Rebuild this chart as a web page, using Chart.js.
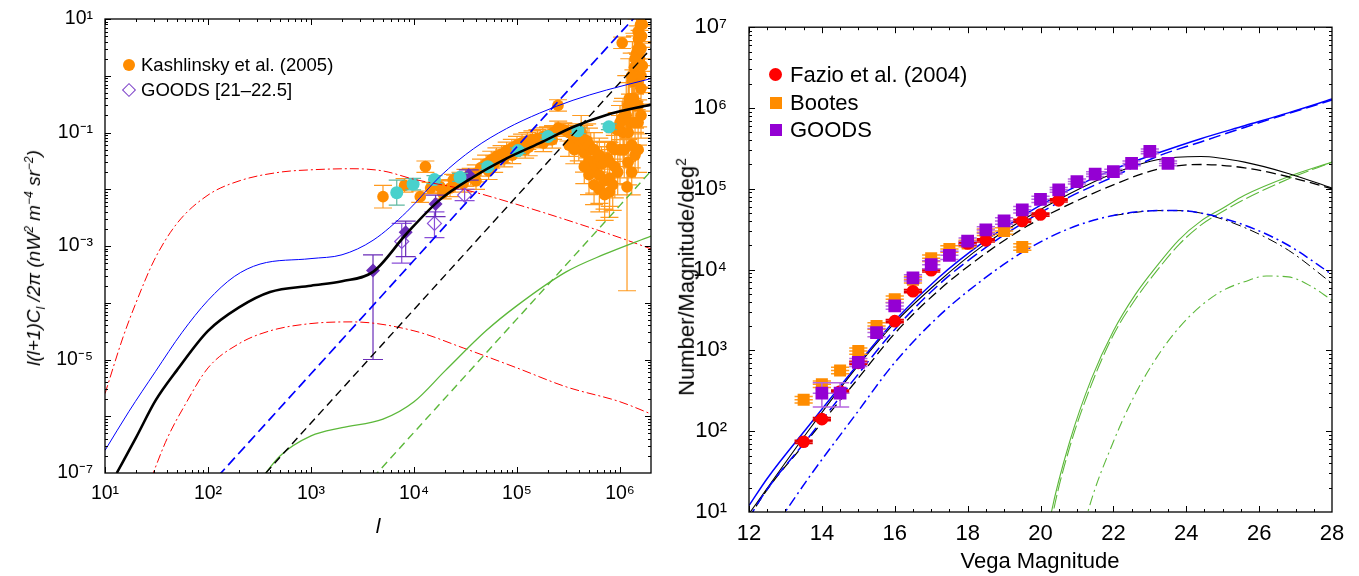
<!DOCTYPE html>
<html>
<head>
<meta charset="utf-8">
<script src="https://cdn.jsdelivr.net/npm/chart.js@4.4.1/dist/chart.umd.min.js"></script>
<style>
  body { margin: 0; background: #fff; width: 1359px; height: 576px; position: relative; overflow: hidden;
         font-family: "Liberation Sans", Arial, sans-serif; color: #000; }
  canvas { position: absolute; top: 0; }
  #left { left: 0; }
  #right { left: 680px; }
  .t { position: absolute; white-space: nowrap; line-height: 1; }
  .rot { transform: translate(-50%, -50%) rotate(-90deg); }
  .mk { position: absolute; }
</style>
</head>
<body>
<canvas id="left" width="680" height="576"></canvas>
<canvas id="right" width="679" height="576"></canvas>

<!-- axis titles -->
<div class="t rot" style="left:35px;top:258px;font-size:19px;font-style:italic;">l(l+1)C<sub style="font-size:12px">l</sub> /2&pi; (nW<sup style="font-size:12px">2</sup> m<sup style="font-size:12px">&minus;4</sup> sr<sup style="font-size:12px">&minus;2</sup>)</div>
<div class="t" style="left:378px;top:515px;font-size:21px;font-style:italic;transform:translateX(-50%);">l</div>
<div class="t rot" style="left:686px;top:277px;font-size:22px;">Number/Magnitude/deg<sup style="font-size:14px">2</sup></div>
<div class="t" style="left:1040px;top:550px;font-size:22px;transform:translateX(-50%);">Vega Magnitude</div>

<!-- legends -->
<div class="mk" style="left:123px;top:59px;width:12px;height:12px;border-radius:50%;background:#ff8c00;"></div>
<div class="t" style="left:141px;top:56px;font-size:18.5px;">Kashlinsky et al. (2005)</div>
<div class="mk" style="left:124px;top:85px;width:8px;height:8px;border:1.2px solid #7b3fc8;transform:rotate(45deg);"></div>
<div class="t" style="left:141px;top:81px;font-size:18.5px;">GOODS [21&ndash;22.5]</div>

<div class="mk" style="left:769px;top:68px;width:13px;height:13px;border-radius:50%;background:#ff0000;"></div>
<div class="t" style="left:790px;top:64px;font-size:22px;">Fazio et al. (2004)</div>
<div class="mk" style="left:770px;top:97px;width:12px;height:12px;background:#ff8c00;"></div>
<div class="t" style="left:790px;top:92px;font-size:22px;">Bootes</div>
<div class="mk" style="left:770px;top:124px;width:12px;height:12px;background:#9400d3;"></div>
<div class="t" style="left:790px;top:119px;font-size:22px;">GOODS</div>

<script>
// ---------- left panel: angular power spectrum ----------
const leftXTicks = [10, 100, 1e3, 1e4, 1e5, 1e6];
const leftXLabels = ['10¹', '10²', '10³', '10⁴', '10⁵', '10⁶'];
const leftYTicks = [10, 0.1, 1e-3, 1e-5, 1e-7];
const leftYLabels = ['10¹', '10⁻¹', '10⁻³', '10⁻⁵', '10⁻⁷'];

// model curves (l, value)
const blueTotL = [10, 17, 31, 56, 100, 180, 320, 1000, 2000, 4000, 8500, 1.8e4, 3.8e4, 7.9e4, 1.66e5, 3.5e5, 7.4e5, 2e6];
const blueTotV = [2.5e-7, 1.2e-6, 6.2e-6, 3.0e-5, 1.1e-4, 2.9e-4, 4.8e-4, 6.0e-4, 7.0e-4, 1.26e-3, 4.0e-3, 1.7e-2, 5.2e-2, 0.117, 0.22, 0.37, 0.56, 0.89];
const blackTotL = [13, 20, 31, 50, 100, 200, 400, 1000, 2000, 4000, 8500, 1.78e4, 3.8e4, 7.94e4, 1.66e5, 3.55e5, 7.4e5, 2e6];
const blackTotV = [1e-7, 4.2e-7, 1.9e-6, 6.5e-6, 3.2e-5, 8.3e-5, 1.55e-4, 2.0e-4, 2.4e-4, 3.5e-4, 1.66e-3, 6.5e-3, 1.66e-2, 3.5e-2, 6.5e-2, 0.126, 0.204, 0.31];
const redHiL = [10, 15, 20, 30, 50, 100, 200, 500, 1000, 2500, 5000, 1e4, 3e4, 1e5, 3e5, 1e6, 2e6];
const redHiV = [2.5e-6, 2.5e-5, 1e-4, 5.6e-4, 2.5e-3, 7.9e-3, 1.4e-2, 2.0e-2, 2.2e-2, 2.3e-2, 2.1e-2, 1.5e-2, 1.0e-2, 5.4e-3, 2.9e-3, 1.4e-3, 8.9e-4];
const redLoL = [28, 40, 60, 100, 200, 400, 1000, 2500, 1e4, 3e4, 1e5, 3e5, 1e6, 2e6];
const redLoV = [8e-8, 4e-7, 1.6e-6, 7.1e-6, 1.9e-5, 3.2e-5, 4.3e-5, 4.6e-5, 3.2e-5, 1.6e-5, 7.1e-6, 3.3e-6, 1.8e-6, 1.1e-6];
const blueShotL = [100, 1e3, 1e4, 1e5, 1e6, 2e6];
const blueShotV = [5.6e-8, 5.6e-6, 5.6e-4, 5.6e-2, 5.6, 22];
const blackShotL = [300, 1e3, 1e4, 1e5, 1e6, 2e6];
const blackShotV = [6.8e-8, 7.6e-7, 7.6e-5, 7.6e-3, 0.76, 3.0];
const greenShotL = [4000, 1e4, 1e5, 1e6, 2e6];
const greenShotV = [8.3e-8, 5.2e-7, 5.2e-5, 5.2e-3, 2.1e-2];
const greenTotL = [330, 500, 1000, 2000, 5000, 1e4, 2e4, 5e4, 1e5, 3e5, 7e5, 2e6];
const greenTotV = [8e-8, 2e-7, 4.5e-7, 6.3e-7, 8.9e-7, 1.8e-6, 6.3e-6, 3.2e-5, 8.9e-5, 3.5e-4, 7.1e-4, 1.5e-3];

// Kashlinsky et al. (2005) points, errors in dex
const kashL = [5000, 8100, 11500, 12900, 14500, 17800, 19000, 24000,
  22400, 25100, 28200, 31600, 35500, 39800, 44700, 50100, 56200, 63100,
  70800, 79400, 89100, 100000, 112000, 126000, 141000, 158000, 178000, 200000,
  224000, 251000, 282000, 316000, 355000, 398000, 447000, 501000, 562000, 631000,
  708000, 794000, 891000, 1.0e6, 1.07e6, 1.15e6, 1.23e6, 1.32e6, 1.38e6, 1.45e6, 1.51e6, 1.58e6,
  250000, 1.05e6, 1.17e6, 420000, 480000, 520000, 600000, 660000, 760000, 830000, 930000, 1.05e6,
  30000, 53000, 75000, 120000,
  40000, 60000, 90000, 130000, 180000, 220000,
  320000, 360000, 400000, 450000, 450000, 500000, 500000, 560000, 560000, 630000, 630000,
  710000, 710000, 790000, 790000, 850000, 890000, 950000, 1.0e6, 1.1e6, 1.2e6, 1.25e6,
  1.3e6, 1.35e6, 1.4e6, 1.45e6, 1.5e6, 1.55e6, 1.6e6, 1.62e6,
  1.2e6, 1.2e6, 1.3e6, 1.3e6, 1.4e6, 1.4e6, 1.4e6, 1.5e6, 1.5e6, 1.5e6, 1.5e6, 1.6e6, 1.6e6, 1.6e6, 1.65e6, 1.65e6];
const kashV = [7.4e-3, 1.17e-2, 7.4e-3, 2.5e-2, 1.05e-2, 1.12e-2, 8.5e-3, 1.45e-2,
  0.0105, 0.0126, 0.0141, 0.0158, 0.0166, 0.0191, 0.0240, 0.0282, 0.0331, 0.0380,
  0.0417, 0.0479, 0.0537, 0.0603, 0.0661, 0.0708, 0.0759, 0.0794, 0.0851, 0.0891,
  0.100, 0.120, 0.112, 0.100, 0.0832, 0.0631, 0.0447, 0.0316, 0.0240, 0.0178,
  0.0141, 0.0158, 0.0251, 0.0501, 0.100, 0.200, 0.398, 0.794, 1.41, 2.51, 4.47, 7.94,
  0.30, 3.8, 0.011, 0.10, 0.071, 0.050, 0.035, 0.028, 0.035, 0.056, 0.112, 0.178,
  0.0126, 0.021, 0.035, 0.05,
  0.014, 0.028, 0.04, 0.055, 0.065, 0.075,
  0.06, 0.05, 0.09, 0.075, 0.025, 0.06, 0.018, 0.05, 0.012, 0.04, 0.01,
  0.03, 0.008, 0.03, 0.009, 0.012, 0.05, 0.02, 0.15, 0.05, 0.03, 0.15,
  0.06, 0.4, 0.15, 0.8, 0.3, 2.0, 1.0, 5.0,
  0.1, 0.3, 0.02, 1.0, 0.04, 0.3, 2.0, 0.05, 0.15, 3.0, 6.0, 0.2, 0.6, 3.0, 1.5, 8.0];
const kashErrDn = [0.2, 0.12, 0.1, 0.1, 0.1, 0.1, 0.1, 0.1,
  0.15, 0.15, 0.15, 0.15, 0.15, 0.15, 0.15, 0.15, 0.15, 0.15,
  0.15, 0.15, 0.15, 0.15, 0.15, 0.15, 0.15, 0.15, 0.15, 0.15,
  0.12, 0.12, 0.12, 0.15, 0.2, 0.3, 0.35, 0.4, 0.45, 0.5,
  0.5, 0.5, 0.55, 0.6, 0.6, 0.7, 0.7, 0.7, 0.6, 0.6, 0.5, 0.4,
  0.1, 0.1, 1.83, 0.3, 0.3, 0.3, 0.3, 0.3, 0.3, 0.3, 0.3, 0.3,
  0.15, 0.15, 0.15, 0.15,
  0.15, 0.15, 0.15, 0.15, 0.15, 0.15,
  0.2, 0.25, 0.2, 0.25, 0.3, 0.3, 0.35, 0.3, 0.35, 0.3, 0.4,
  0.35, 0.45, 0.35, 0.45, 0.45, 0.3, 0.4, 0.3, 0.5, 0.4, 0.5,
  0.4, 0.5, 0.5, 0.5, 0.5, 0.5, 0.5, 0.4,
  0.4, 0.4, 0.4, 0.4, 0.4, 0.4, 0.4, 0.4, 0.4, 0.4, 0.4, 0.4, 0.4, 0.4, 0.4, 0.3];
const kashErrUp = [0.2, 0.12, 0.1, 0.1, 0.1, 0.1, 0.1, 0.1,
  0.15, 0.15, 0.15, 0.15, 0.15, 0.15, 0.15, 0.15, 0.15, 0.15,
  0.15, 0.15, 0.15, 0.15, 0.15, 0.15, 0.15, 0.15, 0.15, 0.15,
  0.12, 0.12, 0.12, 0.15, 0.2, 0.3, 0.35, 0.4, 0.45, 0.5,
  0.5, 0.5, 0.55, 0.6, 0.6, 0.7, 0.7, 0.7, 0.6, 0.6, 0.5, 0.4,
  0.1, 0.1, 0.45, 0.3, 0.3, 0.3, 0.3, 0.3, 0.3, 0.3, 0.3, 0.3,
  0.15, 0.15, 0.15, 0.15,
  0.15, 0.15, 0.15, 0.15, 0.15, 0.15,
  0.2, 0.25, 0.2, 0.25, 0.3, 0.3, 0.35, 0.3, 0.35, 0.3, 0.4,
  0.35, 0.45, 0.35, 0.45, 0.45, 0.3, 0.4, 0.3, 0.5, 0.4, 0.5,
  0.4, 0.5, 0.5, 0.5, 0.5, 0.5, 0.5, 0.4,
  0.4, 0.4, 0.4, 0.4, 0.4, 0.4, 0.4, 0.4, 0.4, 0.4, 0.4, 0.4, 0.4, 0.4, 0.4, 0.3];

const cyanL = [6800, 9800, 15800, 28000, 52000, 102000, 200000, 390000, 780000];
const cyanV = [8.7e-3, 1.23e-2, 1.48e-2, 1.62e-2, 2.5e-2, 4.8e-2, 8.5e-2, 0.107, 0.126];
const cyanErr = [0.22, 0.1, 0.07, 0.07, 0.05, 0.05, 0.05, 0.05, 0.05];

const goodsAllL = [4000, 8300, 16200, 34000];
const goodsAllV = [3.7e-4, 1.74e-3, 5.5e-3, 1.78e-2];
const goodsAllLo = [1e-5, 6.5e-4, 3.3e-3, 1.45e-2];
const goodsAllHi = [7e-4, 2.75e-3, 7.9e-3, 2.2e-2];
const goods21L = [7600, 15800, 31000];
const goods21V = [1.2e-3, 2.5e-3, 7.9e-3];
const goods21Lo = [5e-4, 1.4e-3, 6.3e-3];
const goods21Hi = [2.5e-3, 4e-3, 1.0e-2];

// ---------- right panel: number counts ----------
const magTicks = [12, 14, 16, 18, 20, 22, 24, 26, 28];
const countTicks = [10, 100, 1e3, 1e4, 1e5, 1e6, 1e7];
const countLabels = ['10¹', '10²', '10³', '10⁴', '10⁵', '10⁶', '10⁷'];

const fazioM = [13.5, 14, 14.5, 15, 16, 16.5, 17, 18, 18.5, 19.5, 20, 20.5];
const fazioN = [74, 141, 310, 700, 2300, 5400, 9800, 21000, 23000, 40000, 48000, 72000];
const bootesM = [13.5, 14, 14.5, 15, 15.5, 16, 16.5, 17, 17.5, 18, 18.5, 19, 19.5];
const bootesN = [245, 380, 565, 980, 2000, 4300, 7500, 13800, 18000, 21000, 29000, 30000, 19000];
const goodsM = [14, 14.5, 15, 15.5, 16, 16.5, 17, 17.5, 18, 18.5, 19, 19.5, 20, 20.5, 21, 21.5, 22, 22.5, 23, 23.5];
const goodsN = [295, 295, 710, 1660, 3550, 7900, 11500, 15000, 22500, 31000, 40000, 55000, 74000, 97000, 123000, 152000, 163000, 206000, 290000, 206000];
const goodsDn = [0.17, 0.17, 0.05, 0.05, 0.04, 0.04, 0.05, 0.05, 0.04, 0.04, 0.04, 0.04, 0.04, 0.03, 0.03, 0.03, 0.03, 0.03, 0.03, 0.03];
const goodsUp = [0.13, 0.13, 0.05, 0.05, 0.04, 0.04, 0.05, 0.05, 0.04, 0.04, 0.04, 0.04, 0.04, 0.03, 0.03, 0.03, 0.03, 0.03, 0.03, 0.03];

const blueTotM = [12, 12.5, 13.7, 14.9, 16, 17.2, 18.4, 19.6, 20.8, 22, 23.2, 24.4, 25.6, 26.8, 28];
const blueTotN = [12, 26, 126, 603, 2340, 7940, 21400, 49000, 97700, 174000, 275000, 417000, 603000, 871000, 1290000];
const blueDashM = [12, 12.1, 13.7, 14.9, 16, 17.2, 18.4, 19.6, 20.8, 22, 23.2, 24.4, 25.6, 28];
const blueDashN = [8, 10, 91, 447, 1820, 6460, 17400, 39800, 79400, 141000, 251000, 380000, 575000, 1260000];
const blackTotM = [12, 13.7, 14.9, 16, 17.2, 18.4, 19.6, 20.8, 22, 23.2, 24.4, 25.6, 26.8, 28];
const blackTotN = [9.5, 112, 575, 2190, 7080, 19500, 43600, 87100, 155000, 229000, 251000, 214000, 155000, 102000];
const blackDashM = [12, 12.1, 13.7, 14.9, 16, 17.2, 18.4, 19.6, 20.8, 22, 23.2, 24.4, 25.6, 26.8, 28];
const blackDashN = [8, 10, 87, 398, 1620, 5500, 14800, 33900, 64600, 112000, 174000, 200000, 182000, 141000, 100000];
const blueDotM = [12.8, 13.7, 14.9, 16, 17.2, 18.4, 19.6, 20.8, 22, 23.2, 23.8, 24.4, 25.6, 26.8, 28];
const blueDotN = [7.5, 29, 155, 708, 2630, 7410, 17400, 32400, 46800, 53700, 53700, 50100, 35500, 20000, 8700];
const blackDotM = [22, 23.2, 23.8, 24.4, 25.6, 26.8, 28];
const blackDotN = [46800, 53700, 53700, 50100, 33100, 17400, 6760];
const greenTotM = [20.15, 20.3, 20.8, 21.4, 22, 22.6, 23.2, 23.8, 24.4, 25, 25.6, 26.8, 28];
const greenTotN = [4, 10, 74, 447, 1740, 4900, 11200, 23400, 39800, 57500, 83200, 141000, 214000];
const greenDashM = [20.2, 20.35, 20.8, 21.4, 22, 22.6, 23.2, 23.8, 24.4, 25, 25.6, 26.8, 28];
const greenDashN = [4, 10, 63, 380, 1550, 4270, 9770, 20400, 35500, 52500, 74100, 132000, 214000];
const greenDotM = [21.1, 21.3, 22, 22.6, 23.2, 23.8, 24.4, 25, 25.6, 26.2, 26.8, 27.4, 28];
const greenDotN = [4, 10, 74, 288, 832, 1910, 3550, 5500, 7080, 8320, 8130, 6310, 4170];

// ---------- helpers ----------
const FONT = '"Liberation Sans", Arial, sans-serif';
const BLUE = '#0000ff', GREEN = '#5cb83a', RED = '#ff0000', ORANGE = '#ff8c00';

const pts = (xs, ys) => xs.map((x, i) => ({ x, y: ys[i] }));

function curve(xs, ys, color, width, dash, smooth = true) {
  return {
    data: pts(xs, ys), showLine: true, borderColor: color, backgroundColor: color,
    borderWidth: width, borderDash: dash || [], pointRadius: 0, pointHoverRadius: 0,
    cubicInterpolationMode: smooth ? 'monotone' : 'default', tension: 0, fill: false
  };
}

function logMinors(lo, hi) {
  const out = [];
  for (let d = lo; d < hi; d *= 10) for (let k = 2; k <= 9; k++) out.push(d * k);
  return out;
}
function steps(a, b, s) {
  const out = [];
  for (let v = a; v <= b + 1e-9; v += s) out.push(v);
  return out;
}

// vertical / horizontal error bars, drawn just under each dataset
const errBars = {
  id: 'errBars',
  beforeDatasetDraw(chart, args) {
    const ds = chart.data.datasets[args.index];
    const e = ds.err;
    if (!e) return;
    const { ctx, chartArea: a, scales: { x, y } } = chart;
    ctx.save();
    ctx.beginPath();
    ctx.rect(a.left, a.top, a.right - a.left, a.bottom - a.top);
    ctx.clip();
    ctx.strokeStyle = e.color;
    ctx.lineWidth = e.width || 1;
    ctx.beginPath();
    ds.data.forEach((p, i) => {
      const px = x.getPixelForValue(p.x);
      const py = y.getPixelForValue(p.y);
      let cl = px - e.cap, cr = px + e.cap;
      if (e.xw) {
        cl = x.getPixelForValue(p.x - e.xw);
        cr = x.getPixelForValue(p.x + e.xw);
        ctx.moveTo(cl, py); ctx.lineTo(cr, py);
      }
      if (e.lo) {
        const y1 = y.getPixelForValue(e.lo[i]);
        const y2 = y.getPixelForValue(e.hi[i]);
        ctx.moveTo(px, y1); ctx.lineTo(px, y2);
        ctx.moveTo(cl, y1); ctx.lineTo(cr, y1);
        ctx.moveTo(cl, y2); ctx.lineTo(cr, y2);
      }
    });
    ctx.stroke();
    ctx.restore();
  }
};

// plot frame with inward ticks on all four sides
const frameTicks = {
  id: 'frameTicks',
  afterDraw(chart, args, o) {
    const { ctx, chartArea: a, scales: { x, y } } = chart;
    ctx.save();
    ctx.strokeStyle = '#000';
    ctx.lineWidth = 1;
    ctx.beginPath();
    const tx = (vals, len) => vals.forEach(v => {
      const p = Math.round(x.getPixelForValue(v)) + 0.5;
      if (p < a.left || p > a.right) return;
      ctx.moveTo(p, a.bottom); ctx.lineTo(p, a.bottom - len);
      ctx.moveTo(p, a.top); ctx.lineTo(p, a.top + len);
    });
    const ty = (vals, len) => vals.forEach(v => {
      const p = Math.round(y.getPixelForValue(v)) + 0.5;
      if (p < a.top || p > a.bottom) return;
      ctx.moveTo(a.left, p); ctx.lineTo(a.left + len, p);
      ctx.moveTo(a.right, p); ctx.lineTo(a.right - len, p);
    });
    tx(o.xMajor, 6); tx(o.xMinor, 3);
    ty(o.yMajor, 6); ty(o.yMinor, 3);
    ctx.stroke();
    ctx.lineWidth = 1.3;
    ctx.strokeRect(a.left, a.top, a.right - a.left, a.bottom - a.top);
    ctx.restore();
  }
};

function axis(type, min, max, ticks, labels, fit, size, pad) {
  return {
    type, min, max,
    grid: { display: false }, border: { display: false },
    afterBuildTicks: s => { s.ticks = ticks.map(v => ({ value: v })); },
    afterFit: fit,
    ticks: {
      autoSkip: false, maxRotation: 0, padding: pad, color: '#000',
      font: { family: FONT, size },
      callback: (v, i) => labels[i]
    }
  };
}

const base = {
  responsive: false, animation: false, events: [],
  plugins: { legend: { display: false }, tooltip: { enabled: false } }
};

// ---------- left chart ----------
new Chart(document.getElementById('left'), {
  type: 'scatter',
  data: {
    datasets: [
      curve(blackTotL, blackTotV, '#000', 2.6),
      curve(blueTotL, blueTotV, BLUE, 1),
      curve(blueShotL, blueShotV, BLUE, 1.7, [10, 5], false),
      curve(blackShotL, blackShotV, '#000', 1.4, [8, 5], false),
      curve(greenShotL, greenShotV, GREEN, 1.4, [8, 5], false),
      curve(greenTotL, greenTotV, GREEN, 1.3),
      curve(redHiL, redHiV, RED, 1, [9, 3, 2, 3]),
      curve(redLoL, redLoV, RED, 1, [9, 3, 2, 3]),
      {
        data: pts(cyanL, cyanV), pointStyle: 'circle', pointRadius: 6.5, backgroundColor: '#48d1cc', borderWidth: 0,
        err: { lo: cyanV.map((v, i) => v / Math.pow(10, cyanErr[i])), hi: cyanV.map((v, i) => v * Math.pow(10, cyanErr[i])), color: '#5fb8a0', cap: 8, width: 1.2 }
      },
      {
        data: pts(goodsAllL, goodsAllV), pointStyle: 'rectRot', pointRadius: 7, backgroundColor: '#6a2db8', borderWidth: 0,
        err: { lo: goodsAllLo, hi: goodsAllHi, color: '#6a2db8', cap: 10, width: 1.2 }
      },
      {
        data: pts(goods21L, goods21V), pointStyle: 'rectRot', pointRadius: 7, backgroundColor: 'rgba(0,0,0,0)', borderColor: '#8a4fd8', borderWidth: 1.2,
        err: { lo: goods21Lo, hi: goods21Hi, color: '#8a4fd8', cap: 10, width: 1.2 }
      },
      {
        data: pts(kashL, kashV), pointStyle: 'circle', pointRadius: 5.8, backgroundColor: ORANGE, borderWidth: 0,
        err: { lo: kashV.map((v, i) => v / Math.pow(10, kashErrDn[i])), hi: kashV.map((v, i) => v * Math.pow(10, kashErrUp[i])), color: '#ff9a1f', cap: 9, width: 1.2 }
      }
    ]
  },
  options: {
    ...base,
    layout: { padding: { top: 19, right: 29, left: 0, bottom: 0 } },
    plugins: {
      ...base.plugins,
      frameTicks: { xMajor: leftXTicks, xMinor: logMinors(10, 1e6), yMajor: [10, 1, 0.1, 0.01, 1e-3, 1e-4, 1e-5, 1e-6, 1e-7], yMinor: logMinors(1e-7, 10) }
    },
    scales: {
      x: axis('logarithmic', 10, 2e6, leftXTicks, leftXLabels, s => { s.height = 103; }, 19.5, 1),
      y: axis('logarithmic', 1e-7, 10, leftYTicks, leftYLabels, s => { s.width = 105; }, 19.5, 4)
    }
  },
  plugins: [errBars, frameTicks]
});

// ---------- right chart ----------
const hbar = (n, dn, up, color) => ({
  lo: n.map((v, i) => v / Math.pow(10, dn[i])),
  hi: n.map((v, i) => v * Math.pow(10, up[i])),
  xw: 0.25, color, cap: 8, width: 1.5
});
const flat = (n, d) => n.map(() => d);

new Chart(document.getElementById('right'), {
  type: 'scatter',
  data: {
    datasets: [
      { data: pts(goodsM, goodsN), pointStyle: 'rect', pointRadius: 9, backgroundColor: '#9400d3', borderWidth: 0,
        err: hbar(goodsN, goodsDn, goodsUp, '#b566e0') },
      { data: pts(fazioM, fazioN), pointStyle: 'circle', pointRadius: 6.3, backgroundColor: RED, borderWidth: 0,
        err: hbar(fazioN, flat(fazioN, 0.02), flat(fazioN, 0.02), '#e00000') },
      { data: pts(bootesM, bootesN), pointStyle: 'rect', pointRadius: 8.5, backgroundColor: ORANGE, borderWidth: 0,
        err: hbar(bootesN, flat(bootesN, 0.04), flat(bootesN, 0.04), '#ff9a1f') },
      curve(blueTotM, blueTotN, BLUE, 1.5),
      curve(blueDashM, blueDashN, BLUE, 1.5, [12, 5]),
      curve(blackTotM, blackTotN, '#000', 1.1),
      curve(blackDashM, blackDashN, '#000', 1.3, [10, 5]),
      curve(blueDotM, blueDotN, BLUE, 1.5, [10, 4, 2, 4]),
      curve(blackDotM, blackDotN, '#000', 1, [10, 4, 2, 4]),
      curve(greenTotM, greenTotN, GREEN, 1.1),
      curve(greenDashM, greenDashN, GREEN, 1.1, [14, 4]),
      curve(greenDotM, greenDotN, GREEN, 1.1, [10, 4, 2, 4])
    ]
  },
  options: {
    ...base,
    layout: { padding: { top: 26, right: 27, left: 0, bottom: 0 } },
    plugins: {
      ...base.plugins,
      frameTicks: { xMajor: magTicks, xMinor: steps(12.5, 27.5, 0.5), yMajor: countTicks, yMinor: logMinors(10, 1e7) }
    },
    scales: {
      x: axis('linear', 12, 28, magTicks, magTicks.map(String), s => { s.height = 64; }, 22, 1),
      y: axis('logarithmic', 10, 1e7, countTicks, countLabels, s => { s.width = 69; }, 22, 14)
    }
  },
  plugins: [errBars, frameTicks]
});
</script>
</body>
</html>
